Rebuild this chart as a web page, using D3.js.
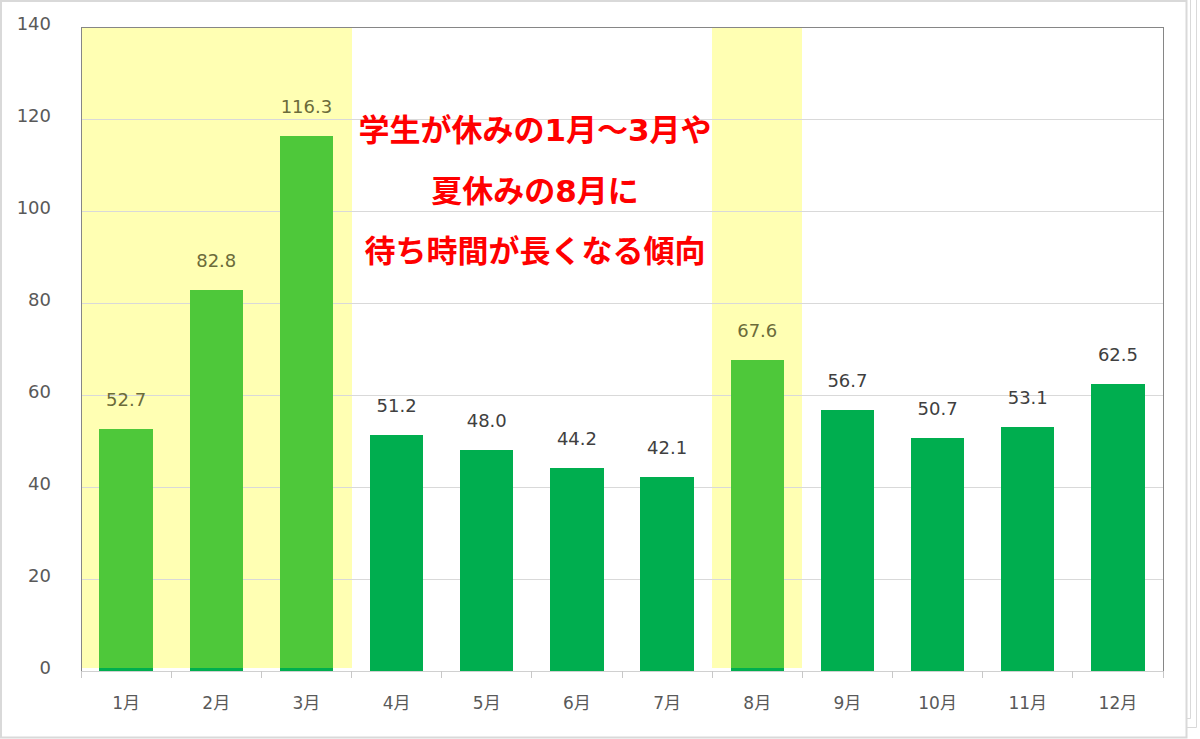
<!DOCTYPE html>
<html lang="ja">
<head>
<meta charset="UTF-8">
<title>月別待ち時間</title>
<script src="https://d3js.org/d3.v7.min.js"></script>
<style>
  body { margin: 0; background: #fff; }
  text { font-family: "DejaVu Sans", "Noto Sans CJK JP", sans-serif; }
</style>
</head>
<body>
<div id="chart"></div>
<script>
const months = ["1月","2月","3月","4月","5月","6月","7月","8月","9月","10月","11月","12月"]
const waitTimes = [52.7, 82.8, 116.3, 51.2, 48.0, 44.2, 42.1, 67.6, 56.7, 50.7, 53.1, 62.5]
const holidayMonths = ["1月","2月","3月","8月"]
const yTicks = [0, 20, 40, 60, 80, 100, 120, 140]
const noteLines = ["学生が休みの1月～3月や", "夏休みの8月に", "待ち時間が長くなる傾向"]

const width = 1200
const height = 739
const plotLeft = 81, plotRight = 1163, plotTop = 27, plotBottom = 671

const data = months.map((m, i) => ({month: m, value: waitTimes[i], holiday: holidayMonths.includes(m)}))

const svg = d3.select("#chart").append("svg")
    .attr("width", width)
    .attr("height", height)

// outer frame (with the stacked edge lines on the right)
const frame = svg.append("g").attr("fill", "none").attr("stroke", "#d9d9d9")
frame.append("path").attr("d", "M1190.5,0V718.5H1186").attr("stroke-width", 1)
frame.append("path").attr("d", "M1196.5,0V727.5H1186").attr("stroke-width", 1)
frame.append("rect")
    .attr("x", 1).attr("y", 1).attr("width", 1185.5).attr("height", 736.5)
    .attr("fill", "#fff").attr("stroke-width", 2)

const x = d3.scaleBand().domain(months).range([plotLeft, plotRight]).paddingInner(0.41).paddingOuter(0.205)
const y = d3.scaleLinear().domain([0, 140]).range([plotBottom, plotTop])
const step = x.step()
const pad = step * x.paddingInner() / 2

// yellow holiday background
svg.append("g").attr("shape-rendering", "crispEdges")
  .selectAll("rect")
  .data(data.filter(d => d.holiday))
  .join("rect")
    .attr("x", d => Math.round(x(d.month) - pad))
    .attr("width", d => Math.round(x(d.month) - pad + step) - Math.round(x(d.month) - pad))
    .attr("y", plotTop)
    .attr("height", plotBottom - 3 - plotTop)
    .attr("fill", "#ffffb3")

// gridlines
svg.append("g").attr("shape-rendering", "crispEdges")
  .selectAll("line")
  .data(yTicks.filter(t => t > 0 && t < 140))
  .join("line")
    .attr("x1", plotLeft).attr("x2", plotRight)
    .attr("y1", d => y(d)).attr("y2", d => y(d))
    .attr("stroke", "#d9d9d9")

// bars
const bars = svg.append("g").attr("shape-rendering", "crispEdges")
bars.selectAll("rect.base")
  .data(data)
  .join("rect")
    .attr("class", "base")
    .attr("x", d => x(d.month))
    .attr("width", x.bandwidth())
    .attr("y", d => y(d.value))
    .attr("height", d => plotBottom - y(d.value))
    .attr("fill", "#00ae4f")
bars.selectAll("rect.light")
  .data(data.filter(d => d.holiday))
  .join("rect")
    .attr("class", "light")
    .attr("x", d => x(d.month))
    .attr("width", x.bandwidth())
    .attr("y", d => y(d.value))
    .attr("height", d => plotBottom - 3 - y(d.value))
    .attr("fill", "#4ec83a")

// plot border (top, left, right) and x axis
svg.append("path")
    .attr("shape-rendering", "crispEdges")
    .attr("d", `M${plotLeft},${plotBottom}V${plotTop}H${plotRight}V${plotBottom}`)
    .attr("fill", "none").attr("stroke", "#868686")

const xAxis = svg.append("g").attr("shape-rendering", "crispEdges")
xAxis.append("line")
    .attr("x1", plotLeft).attr("x2", plotRight)
    .attr("y1", plotBottom).attr("y2", plotBottom)
    .attr("stroke", "#d0d0d0")
xAxis.selectAll("line.tick")
  .data(d3.range(months.length + 1))
  .join("line")
    .attr("class", "tick")
    .attr("x1", i => plotLeft + i * step).attr("x2", i => plotLeft + i * step)
    .attr("y1", plotBottom).attr("y2", plotBottom + 7)
    .attr("stroke", "#c8c8c8")

svg.append("g").selectAll("text")
  .data(months)
  .join("text")
    .attr("x", d => x(d) + x.bandwidth() / 2)
    .attr("y", 709)
    .attr("text-anchor", "middle")
    .attr("font-size", 17)
    .attr("fill", "#595959")
    .text(d => d)

// y tick labels
svg.append("g").selectAll("text")
  .data(yTicks)
  .join("text")
    .attr("x", 51)
    .attr("y", d => y(d) + 3)
    .attr("text-anchor", "end")
    .attr("font-size", 18)
    .attr("fill", "#595959")
    .text(d => d)

// value labels
svg.append("g").selectAll("text")
  .data(data)
  .join("text")
    .attr("x", d => x(d.month) + x.bandwidth() / 2)
    .attr("y", d => y(d.value) - 23)
    .attr("text-anchor", "middle")
    .attr("font-size", 18)
    .attr("fill", d => d.holiday ? "#6b6b3a" : "#404040")
    .text(d => d3.format(".1f")(d.value))

// annotation
svg.append("g").selectAll("text")
  .data(noteLines)
  .join("text")
    .attr("x", 535)
    .attr("y", (d, i) => 141 + i * 60.5)
    .attr("text-anchor", "middle")
    .attr("font-family", "'Noto Sans CJK JP', sans-serif")
    .attr("font-weight", "bold")
    .attr("font-size", 31)
    .attr("fill", "#ff0000")
    .text(d => d)
</script>
</body>
</html>
